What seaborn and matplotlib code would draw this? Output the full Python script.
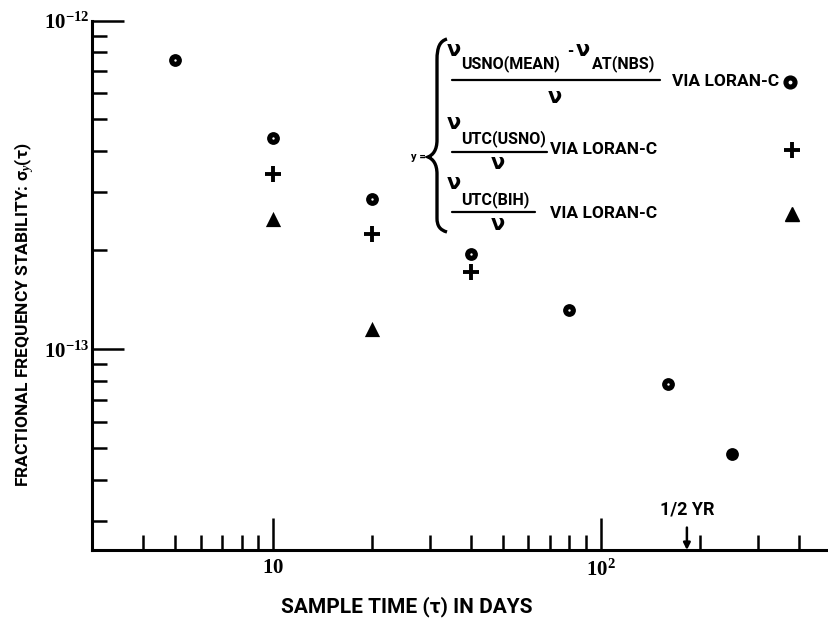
import numpy as np
import pandas as pd
import matplotlib.pyplot as plt
import seaborn as sns
from matplotlib.lines import Line2D
from matplotlib.path import Path
from matplotlib.patches import PathPatch
from matplotlib.ticker import FixedLocator, NullFormatter

# sample time (days) and sigma_y(tau)
tau_usno_nbs = [5, 10, 20, 40, 80, 160, 250]
sig_usno_nbs = [7.6e-13, 4.4e-13, 2.87e-13, 1.95e-13, 1.31e-13, 7.8e-14, 4.8e-14]
tau_utc_usno = [10, 20, 40]
sig_utc_usno = [3.42e-13, 2.24e-13, 1.71e-13]
tau_utc_bih = [10, 20]
sig_utc_bih = [2.49e-13, 1.15e-13]

x_tick_vals = [10, 100]
x_tick_labels = ["$10$", "$10^{2}$"]
y_tick_vals = [1e-13, 1e-12]
y_tick_labels = ["$10^{-13}$", "$10^{-12}$"]
half_year = 182.5

sns.set_theme(style="ticks")
plt.rcParams["font.family"] = ["Roboto", "DejaVu Sans"]
plt.rcParams["font.weight"] = "bold"
plt.rcParams["text.color"] = "black"
plt.rcParams["axes.labelcolor"] = "black"
plt.rcParams["mathtext.fontset"] = "custom"
plt.rcParams["mathtext.rm"] = "Liberation Serif:bold"
plt.rcParams["mathtext.it"] = "Liberation Serif:italic:bold"
plt.rcParams["mathtext.bf"] = "Liberation Serif:bold"

W, H = 829, 627
fig = plt.figure(figsize=(W / 100, H / 100), dpi=100)
fig.patch.set_facecolor("white")


def fx(x):
    return x / W


def fy(y):
    return 1 - y / H


ax = fig.add_axes([fx(92), fy(550), (W - 92) / W, (550 - 20.5) / H])
ax.set_facecolor("white")

# data
sns.scatterplot(x=tau_usno_nbs, y=sig_usno_nbs, marker="o", s=85, color="black",
                linewidth=0, ax=ax, zorder=3)
sns.scatterplot(x=tau_usno_nbs[:-1], y=sig_usno_nbs[:-1], marker="o", s=3, color="white",
                linewidth=0, ax=ax, zorder=4)
sns.scatterplot(x=tau_utc_usno, y=sig_utc_usno, marker="+", s=140, color="black",
                linewidth=2.8, ax=ax, zorder=3)
sns.scatterplot(x=tau_utc_bih, y=sig_utc_bih, marker="^", s=120, color="black",
                linewidth=0, ax=ax, zorder=3)

ax.set_xscale("log")
ax.set_yscale("log")
ax.set_xlim(2.8, 495)
ax.set_ylim(2.44e-14, 1e-12)

ax.set_xticks(x_tick_vals, x_tick_labels)
ax.set_yticks(y_tick_vals, y_tick_labels)
ax.xaxis.set_minor_locator(FixedLocator([4, 5, 6, 7, 8, 9, 20, 30, 40, 50, 60, 70, 80, 90,
                                         200, 300, 400]))
ax.yaxis.set_minor_locator(FixedLocator([k * 1e-14 for k in range(3, 10)] +
                                        [k * 1e-13 for k in range(2, 10)]))
ax.xaxis.set_minor_formatter(NullFormatter())
ax.yaxis.set_minor_formatter(NullFormatter())

ax.tick_params(which="major", direction="in", length=23, width=1.8, color="black",
               labelcolor="black", labelsize=15)
ax.tick_params(which="minor", direction="in", length=11, width=1.8, color="black")
ax.tick_params(axis="x", which="major", pad=6)
ax.tick_params(axis="y", which="major", pad=2)

for side in ["top", "right"]:
    ax.spines[side].set_visible(False)
for side in ["left", "bottom"]:
    ax.spines[side].set_linewidth(2.2)
    ax.spines[side].set_color("black")

ax.set_xlabel("SAMPLE TIME (τ) IN DAYS", fontsize=15, fontweight="bold", va="center")
ax.xaxis.set_label_coords((407 - 92) / (W - 92), (550 - 607) / 529.5)
ax.set_ylabel("FRACTIONAL FREQUENCY STABILITY: σ$_{y}$(τ)", fontsize=12.5,
              fontweight="bold", va="center")
ax.yaxis.set_label_coords((24 - 92) / (W - 92), (550 - 315) / 529.5)

# 1/2 year marker
ax.annotate("1/2 YR", xy=(half_year, 2.44e-14), xytext=(0, 29), textcoords="offset points",
            ha="center", va="center", fontsize=13, fontweight="bold",
            arrowprops=dict(arrowstyle="-|>", color="black", lw=1.8, shrinkA=4, shrinkB=0,
                            mutation_scale=10))

# legend drawn as a bracketed formula
nu_kw = dict(fontsize=15, fontweight="bold", family="DejaVu Sans", va="center")
sub_kw = dict(fontsize=11.5, fontweight="bold", va="center", ha="left")
via_kw = dict(fontsize=12.5, fontweight="bold", va="center", ha="left")

fig.text(fx(411), fy(157), "y =", fontsize=8, fontweight="bold", va="center", ha="left")

brace = Path([(fx(447), fy(39)), (fx(440), fy(41)), (fx(437), fy(47)), (fx(437), fy(60)),
              (fx(437), fy(140)),
              (fx(437), fy(150)), (fx(433), fy(155)), (fx(428), fy(157)),
              (fx(433), fy(159)), (fx(437), fy(164)), (fx(437), fy(174)),
              (fx(437), fy(218)),
              (fx(437), fy(226)), (fx(440), fy(230)), (fx(447), fy(232))],
             [Path.MOVETO, Path.CURVE4, Path.CURVE4, Path.CURVE4, Path.LINETO,
              Path.CURVE4, Path.CURVE4, Path.CURVE4, Path.CURVE4, Path.CURVE4, Path.CURVE4,
              Path.LINETO, Path.CURVE4, Path.CURVE4, Path.CURVE4])
fig.add_artist(PathPatch(brace, facecolor="none", edgecolor="black", lw=2.4,
                         transform=fig.transFigure))

rows = [
    dict(num=[(447, 50, "ν", "nu"), (461, 64, "USNO(MEAN)", "sub"), (567, 52, "-", "sub"),
              (576, 50, "ν", "nu"), (592, 64, "AT(NBS)", "sub")],
         line=(452, 660, 80), den=(555, 97), via=(672, 82), key=(790, 82, "o")),
    dict(num=[(447, 123, "ν", "nu"), (461, 139, "UTC(USNO)", "sub")],
         line=(452, 547, 152), den=(498, 163), via=(550, 150), key=(792, 150, "+")),
    dict(num=[(447, 183, "ν", "nu"), (461, 200, "UTC(BIH)", "sub")],
         line=(452, 535, 212), den=(498, 224), via=(550, 214), key=(792, 214, "^")),
]
for r in rows:
    for x, y, s, kind in r["num"]:
        if kind == "nu":
            fig.text(fx(x), fy(y), s, ha="left", **nu_kw)
        else:
            fig.text(fx(x), fy(y), s, **sub_kw)
    x0, x1, yl = r["line"]
    fig.add_artist(Line2D([fx(x0), fx(x1)], [fy(yl), fy(yl)], color="black", lw=1.6,
                          transform=fig.transFigure))
    fig.text(fx(r["den"][0]), fy(r["den"][1]), "ν", ha="center", **nu_kw)
    fig.text(fx(r["via"][0]), fy(r["via"][1]), "VIA LORAN-C", **via_kw)
    kx, ky, km = r["key"]
    if km == "o":
        fig.add_artist(Line2D([fx(kx)], [fy(ky)], marker="o", markersize=9.2, color="black",
                              linestyle="none", transform=fig.transFigure))
        fig.add_artist(Line2D([fx(kx)], [fy(ky)], marker="o", markersize=1.8, color="white",
                              linestyle="none", transform=fig.transFigure))
    elif km == "+":
        fig.add_artist(Line2D([fx(kx)], [fy(ky)], marker="+", markersize=11, color="black",
                              markeredgewidth=2.8, linestyle="none",
                              transform=fig.transFigure))
    else:
        fig.add_artist(Line2D([fx(kx)], [fy(ky)], marker="^", markersize=10, color="black",
                              linestyle="none", transform=fig.transFigure))

fig.savefig("out.png", dpi=100, facecolor="white")
